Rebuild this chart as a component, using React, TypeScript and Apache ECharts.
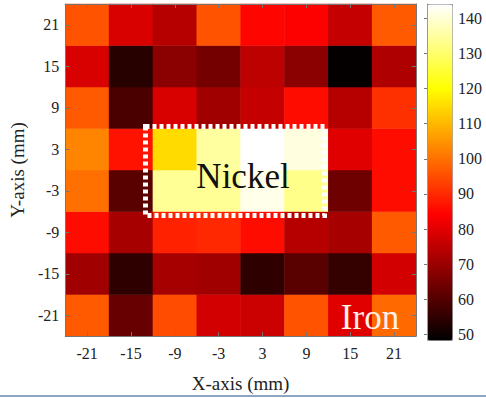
import React, { useEffect, useRef } from "react";
import * as echarts from "echarts";

const xLabels = ["-21", "-15", "-9", "-3", "3", "9", "15", "21"];
const yLabels = ["-21", "-15", "-9", "-3", "3", "9", "15", "21"]; // bottom to top

// values per row, listed left (x=-21) to right (x=21)
const row21 = [96, 79, 74, 96, 85, 84, 76, 97];
const row15 = [79, 54, 68, 65, 75, 68, 49, 73];
const row9 = [97, 59, 79, 71, 76, 86, 74, 91];
const row3 = [103, 87, 115, 135, 144, 141, 80, 86];
const rowM3 = [100, 61, 134, 134, 142, 133, 64, 86];
const rowM9 = [86, 72, 89, 90, 86, 74, 72, 97];
const rowM15 = [71, 55, 72, 71, 55, 61, 56, 78];
const rowM21 = [97, 63, 95, 78, 77, 96, 80, 99];

const rowsBottomToTop = [rowM21, rowM15, rowM9, rowM3, row3, row9, row15, row21];

const colorTicks = [50, 60, 70, 80, 90, 100, 110, 120, 130, 140];
const colorMin = 48.5;
const colorMax = 144;

// MATLAB "hot" colormap sampled at 9 even stops
const hotColors = [
  "#000000",
  "#550000",
  "#aa0000",
  "#ff0000",
  "#ff5500",
  "#ffaa00",
  "#ffff00",
  "#ffff80",
  "#ffffff",
];

const FONT = "Liberation Serif";

export default function App() {
  const ref = useRef<HTMLDivElement>(null);

  useEffect(() => {
    if (!ref.current) return;
    const chart = echarts.init(ref.current, null, { renderer: "svg" });

    const data: number[][] = [];
    rowsBottomToTop.forEach((row, yi) => {
      row.forEach((v, xi) => data.push([xi, yi, v]));
    });

    const gL = 58,
      gT = 4,
      gW = 358,
      gH = 334;

    const axisLineStyle = { color: "#7a7470", width: 1 };
    const labelStyle = { fontFamily: FONT, fontSize: 16, color: "#222" };

    chart.setOption({
      animation: false,
      backgroundColor: "#ffffff",
      textStyle: { fontFamily: FONT },
      grid: [
        { left: gL, top: gT, width: gW, height: gH },
        { left: 427, top: 4, width: 25, height: 336 },
      ],
      xAxis: [
        {
          type: "category",
          gridIndex: 0,
          data: xLabels,
          position: "bottom",
          z: 5,
          axisLine: { show: true, lineStyle: axisLineStyle },
          axisTick: { show: true, inside: true, alignWithLabel: true, length: 4, lineStyle: axisLineStyle },
          axisLabel: { ...labelStyle, margin: 9 },
          splitLine: { show: false },
          name: "X-axis (mm)",
          nameLocation: "middle",
          nameGap: 38,
          nameTextStyle: { fontFamily: FONT, fontSize: 19, color: "#222" },
        },
        {
          type: "category",
          gridIndex: 0,
          data: xLabels,
          position: "top",
          z: 5,
          axisLine: { show: true, lineStyle: axisLineStyle },
          axisTick: { show: true, inside: true, alignWithLabel: true, length: 4, lineStyle: axisLineStyle },
          axisLabel: { show: false },
        },
        {
          type: "value",
          gridIndex: 1,
          show: false,
          min: 0,
          max: 1,
        },
      ],
      yAxis: [
        {
          type: "category",
          gridIndex: 0,
          data: yLabels,
          position: "left",
          z: 5,
          axisLine: { show: true, lineStyle: axisLineStyle },
          axisTick: { show: true, inside: true, alignWithLabel: true, length: 4, lineStyle: axisLineStyle },
          axisLabel: { ...labelStyle, margin: 6 },
          name: "Y-axis (mm)",
          nameLocation: "middle",
          nameGap: 34,
          nameRotate: 90,
          nameTextStyle: { fontFamily: FONT, fontSize: 19, color: "#222" },
        },
        {
          type: "category",
          gridIndex: 0,
          data: yLabels,
          position: "right",
          z: 5,
          axisLine: { show: true, lineStyle: axisLineStyle },
          axisTick: { show: true, inside: true, alignWithLabel: true, length: 4, lineStyle: axisLineStyle },
          axisLabel: { show: false },
        },
        {
          type: "value",
          gridIndex: 1,
          position: "right",
          min: colorMin,
          max: colorMax,
          z: 10,
          axisLine: { show: true, lineStyle: { color: "#999", width: 1 } },
          axisTick: {
            show: true,
            inside: true,
            length: 3,
            customValues: colorTicks,
            lineStyle: { color: "#777" },
          },
          axisLabel: {
            ...labelStyle,
            customValues: colorTicks,
            margin: 6,
          },
          splitLine: { show: false },
        },
      ],
      visualMap: {
        type: "continuous",
        seriesIndex: 0,
        min: colorMin,
        max: colorMax,
        calculable: false,
        hoverLink: false,
        show: true,
        left: 427,
        top: 4,
        itemWidth: 25,
        itemHeight: 336,
        padding: 0,
        text: ["", ""],
        showLabel: false,
        borderColor: "#999",
        borderWidth: 1,
        inRange: { color: hotColors },
      },
      series: [
        {
          type: "heatmap",
          xAxisIndex: 0,
          yAxisIndex: 0,
          data,
          itemStyle: { borderWidth: 0 },
          emphasis: { disabled: true },
        },
      ],
      graphic: [
        {
          type: "rect",
          z: 20,
          shape: { x: 145.5, y: 126.5, width: 179, height: 89 },
          style: {
            fill: "none",
            stroke: "#ffffff",
            lineWidth: 5,
            lineDash: [4, 3],
          },
        },
        {
          type: "text",
          z: 21,
          x: 243,
          y: 176,
          style: {
            text: "Nickel",
            fontFamily: FONT,
            fontSize: 35,
            fill: "#111",
            align: "center",
            verticalAlign: "middle",
          },
        },
        {
          type: "text",
          z: 21,
          x: 370,
          y: 317,
          style: {
            text: "Iron",
            fontFamily: FONT,
            fontSize: 35,
            fill: "#fff0ea",
            align: "center",
            verticalAlign: "middle",
          },
        },
        {
          type: "rect",
          z: 21,
          shape: { x: 0, y: 395, width: 486, height: 2 },
          style: { fill: "#8ea6c4" },
        },
      ],
    });

    return () => chart.dispose();
  }, []);

  return (
    <div
      ref={ref}
      style={{ position: "fixed", left: 0, top: 0, width: 486, height: 398 }}
    />
  );
}
